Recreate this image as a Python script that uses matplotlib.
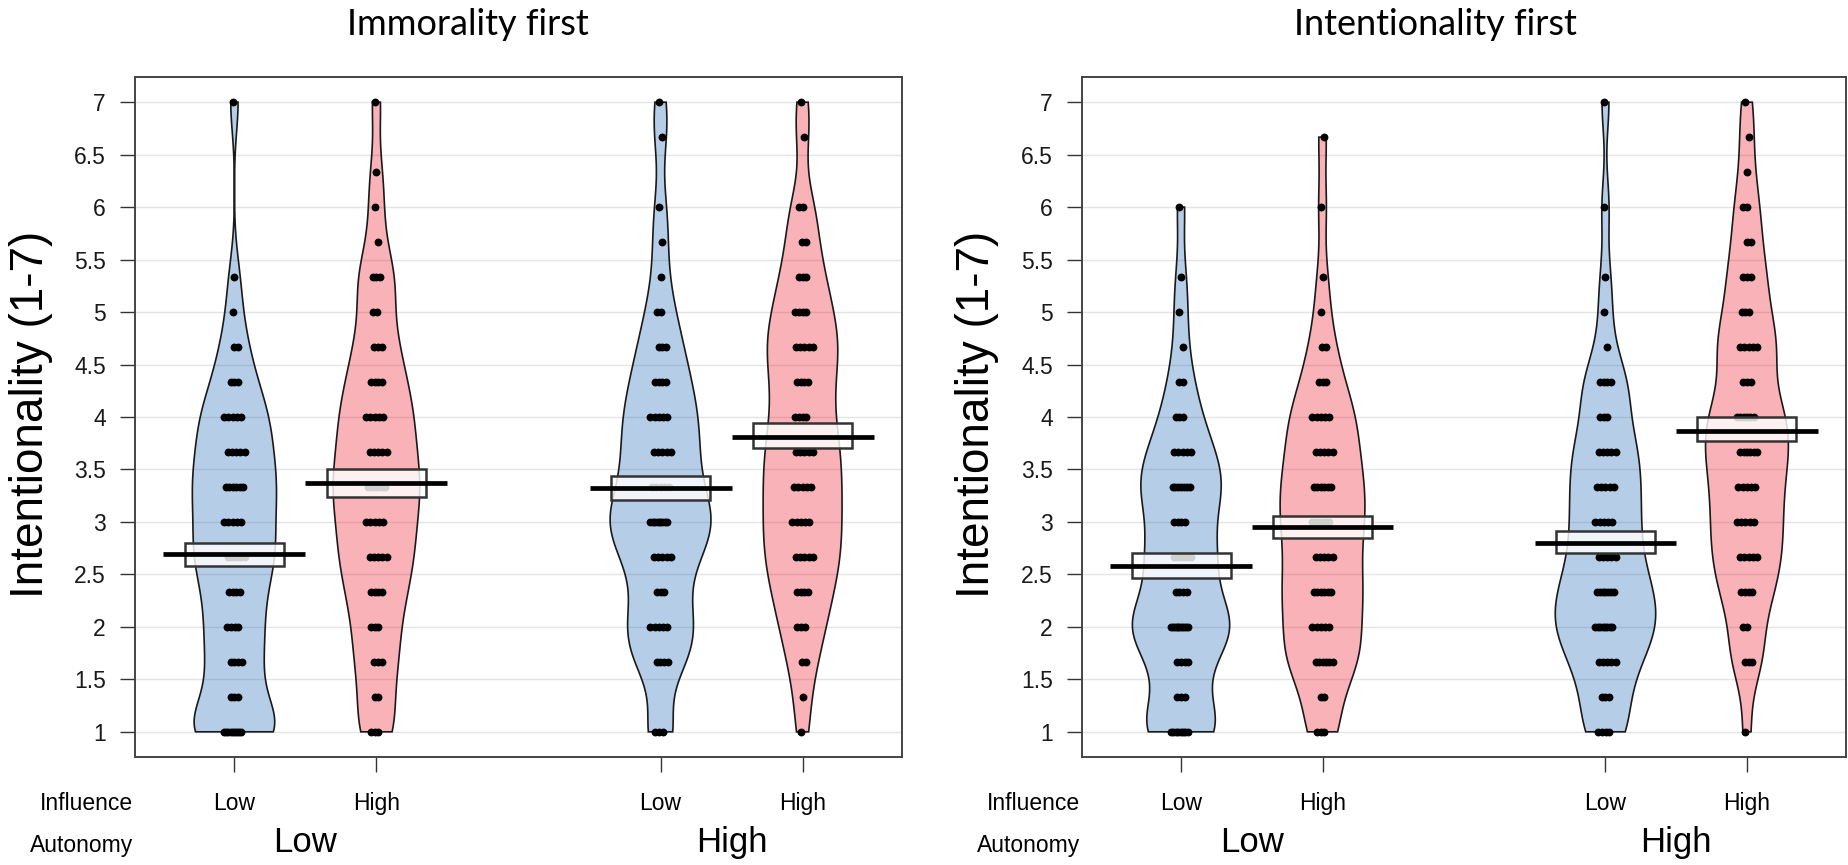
import numpy as np
import matplotlib
matplotlib.use("Agg")
import matplotlib.pyplot as plt
from matplotlib.patches import Rectangle, Polygon
from matplotlib.transforms import blended_transform_factory

plt.rcParams['font.family'] = ['Liberation Sans', 'DejaVu Sans']

# response levels (mean of three 1-7 items)
levels = np.arange(3, 22) / 3.0
positions = [1, 2, 4, 5]
influence = ['Low', 'High', 'Low', 'High']
autonomy = ['Low', 'High']
bean_cols = ['#0C5BB0', '#EE0011', '#0C5BB0', '#EE0011']

# counts per level 1, 1.33, 1.67, ..., 7  (Autonomy x Influence)
imm_low_low = [9, 3, 4, 4, 4, 6, 5, 6, 5, 5, 3, 2, 1, 1, 0, 0, 0, 0, 1]
imm_low_high = [3, 2, 3, 3, 4, 5, 5, 6, 5, 5, 4, 3, 2, 3, 1, 1, 1, 0, 1]
imm_high_low = [3, 0, 4, 5, 3, 5, 8, 5, 5, 5, 4, 3, 2, 1, 1, 1, 0, 1, 1]
imm_high_high = [1, 1, 2, 3, 4, 5, 5, 5, 5, 4, 4, 5, 4, 3, 2, 2, 0, 1, 1]

int_low_low = [8, 3, 4, 10, 4, 6, 4, 7, 5, 3, 2, 1, 1, 1, 0, 1, 0, 0, 0]
int_low_high = [3, 2, 6, 5, 6, 5, 6, 6, 5, 5, 3, 2, 1, 1, 0, 1, 0, 1, 0]
int_high_low = [4, 3, 5, 8, 7, 5, 5, 5, 5, 3, 4, 1, 1, 1, 0, 1, 0, 0, 1]
int_high_high = [1, 0, 3, 2, 4, 5, 5, 5, 6, 6, 3, 5, 3, 3, 2, 2, 1, 1, 1]

# group means and inference bands
imm_means = [2.69, 3.37, 3.32, 3.81]
imm_lo = [2.58, 3.24, 3.21, 3.70]
imm_hi = [2.80, 3.50, 3.44, 3.94]
int_means = [2.58, 2.95, 2.80, 3.87]
int_lo = [2.47, 2.85, 2.70, 3.77]
int_hi = [2.70, 3.06, 2.91, 4.00]

BW = 0.28


def expand(counts):
    return np.repeat(levels, counts)


def density(x):
    # gaussian kde, cut at the data range
    yy = np.linspace(x.min(), x.max(), 300)
    d = np.exp(-0.5 * ((yy[:, None] - x[None, :]) / BW) ** 2).sum(1)
    d /= len(x) * BW * np.sqrt(2 * np.pi)
    return yy, d


def pirate(ax, groups, means, lo, hi):
    dens = [density(expand(g)) for g in groups]
    dmax = max(d.max() for _, d in dens)
    for i, g in enumerate(groups):
        p = positions[i]
        yy, d = dens[i]
        w = d / dmax * 0.355
        xs = np.concatenate([p + w, (p - w)[::-1]])
        ys = np.concatenate([yy, yy[::-1]])
        ax.add_patch(Polygon(np.column_stack([xs, ys]), closed=True,
                             facecolor=bean_cols[i], alpha=0.3, lw=0, zorder=2))
        ax.add_patch(Polygon(np.column_stack([xs, ys]), closed=True,
                             facecolor='none', edgecolor='#1a1a1a', lw=1.2, zorder=3))
        # points, spread evenly around the bean centre
        px, py = [], []
        for j, k in enumerate(g):
            if k == 0:
                continue
            step = 0.026 if k < 5 else 0.12 / (k - 1)
            off = (np.arange(k) - (k - 1) / 2) * step
            shift = 0.012 * ((j % 3) - 1)
            px.extend(p + off + shift)
            py.extend([levels[j]] * k)
        ax.scatter(px, py, s=32, color='black', lw=0, zorder=4)
        ax.add_patch(Rectangle((p - 0.35, lo[i]), 0.7, hi[i] - lo[i],
                               facecolor=(1, 1, 1, 0.82), edgecolor='#333333',
                               lw=1.8, zorder=5))
        ax.plot([p - 0.5, p + 0.5], [means[i], means[i]], color='black',
                lw=3.4, solid_capstyle='butt', zorder=6)


def style(ax):
    ax.set_xlim(0.3, 5.7)
    ax.set_ylim(0.76, 7.24)
    yt = np.arange(1, 7.01, 0.5)
    ax.set_yticks(yt)
    ax.set_yticklabels(['%g' % v for v in yt])
    for v in yt:
        ax.axhline(v, color='#e4e4e4', lw=1.0, zorder=0)
    ax.set_xticks(positions)
    ax.set_xticklabels([])
    ax.tick_params(length=11, width=1.0, color='#333333', labelsize=16.5,
                   pad=10, labelcolor='#1a1a1a')
    for s in ax.spines.values():
        s.set_linewidth(1.4)
        s.set_color('#444444')


W, H = 1848, 865
fig = plt.figure(figsize=(W / 100, H / 100), dpi=100)
ax1 = fig.add_axes([135 / W, 1 - 757 / H, 767 / W, 680 / H])
ax2 = fig.add_axes([1082 / W, 1 - 757 / H, 764 / W, 680 / H])

pirate(ax1, [imm_low_low, imm_low_high, imm_high_low, imm_high_high],
       imm_means, imm_lo, imm_hi)
pirate(ax2, [int_low_low, int_low_high, int_high_low, int_high_high],
       int_means, int_lo, int_hi)

for ax, title, tx, ylx in [(ax1, 'Immorality first', 468, 31),
                           (ax2, 'Intentionality first', 1435, 977)]:
    style(ax)
    fig.text(tx / W, 1 - 35 / H, title, ha='center', va='baseline',
             family=['Lato', 'DejaVu Sans'], fontsize=26)
    fig.text(ylx / W, 1 - 414 / H, 'Intentionality (1-7)', rotation=90,
             ha='center', va='center', fontsize=33)
    left = ax.get_position().x0 - 2 / W
    fig.text(left, 1 - 810 / H, 'Influence', ha='right', va='baseline', fontsize=16.5)
    fig.text(left, 1 - 852 / H, 'Autonomy', ha='right', va='baseline', fontsize=16.5)
    tr = blended_transform_factory(ax.transData, fig.transFigure)
    for p, lab in zip(positions, influence):
        ax.text(p, 1 - 810 / H, lab, transform=tr, ha='center', va='baseline',
                fontsize=16.5)
    for p, lab in zip([1.5, 4.5], autonomy):
        ax.text(p, 1 - 852 / H, lab, transform=tr, ha='center', va='baseline',
                fontsize=25)

fig.savefig('out.png', dpi=100)
